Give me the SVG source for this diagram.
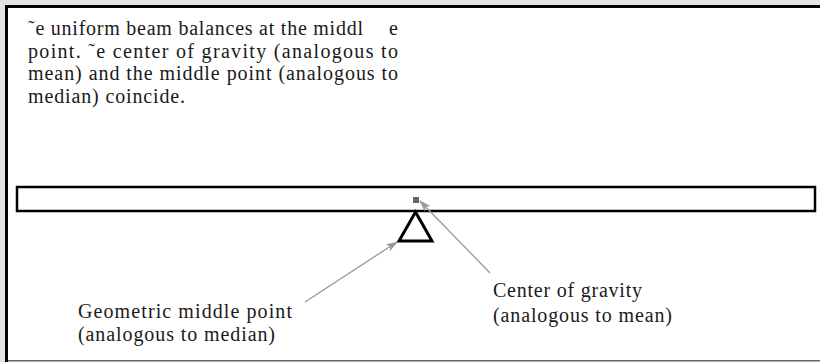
<svg xmlns="http://www.w3.org/2000/svg" width="820" height="362" viewBox="0 0 820 362">
  <style>
    .t { font-family: "Liberation Serif", "Times New Roman", serif; font-size: 20px; fill: #1a1a1a; }
    .conn { stroke: #999; stroke-width: 1.3; fill: none; marker-end: url(#ah); }
  </style>
  <defs>
    <marker id="ah" viewBox="0 0 12 8" refX="11" refY="4" markerWidth="12" markerHeight="8" markerUnits="userSpaceOnUse" orient="auto">
      <path d="M0,0 L12,4 L0,8 L3,4 z" fill="#999"/>
    </marker>
  </defs>
  <rect x="0" y="0" width="820" height="362" fill="#e3e3e3"/>
  <rect x="6.5" y="6.5" width="830" height="370" fill="#fff" stroke="#000" stroke-width="3"/>
  <line x1="8" y1="360.8" x2="820" y2="360.8" stroke="#666" stroke-width="1.6"/>

  <g id="caption">
    <text class="t" x="28" y="35" textLength="335" lengthAdjust="spacing">˜e uniform beam balances at the middl</text>
    <text class="t" x="389" y="35">e</text>
    <text class="t" x="28" y="57.5" textLength="370" lengthAdjust="spacing">point. ˜e center of gravity (analogous to</text>
    <text class="t" x="28" y="80" textLength="370" lengthAdjust="spacing">mean) and the middle point (analogous to</text>
    <text class="t" x="28" y="102.5" textLength="157" lengthAdjust="spacing">median) coincide.</text>
  </g>

  <g id="beam">
    <rect x="17" y="187" width="798" height="24" fill="#fff" stroke="#000" stroke-width="2.5"/>
  </g>
  <g id="center-of-gravity-mark">
    <rect x="413" y="197" width="6" height="6" fill="#666"/>
  </g>
  <g id="fulcrum">
    <polygon points="415.5,212 432,241 399,241" fill="#fff" stroke="#000" stroke-width="3"/>
  </g>

  <g id="connectors">
    <line class="conn" x1="305" y1="302" x2="397" y2="242"/>
    <line class="conn" x1="490" y1="273" x2="420" y2="201"/>
  </g>

  <g id="label-median">
    <text class="t" x="78" y="318" textLength="214" lengthAdjust="spacing">Geometric middle point</text>
    <text class="t" x="78" y="341" textLength="197" lengthAdjust="spacing">(analogous to median)</text>
  </g>
  <g id="label-mean">
    <text class="t" x="493" y="297" textLength="149" lengthAdjust="spacing">Center of gravity</text>
    <text class="t" x="493" y="321.5" textLength="179" lengthAdjust="spacing">(analogous to mean)</text>
  </g>
</svg>
